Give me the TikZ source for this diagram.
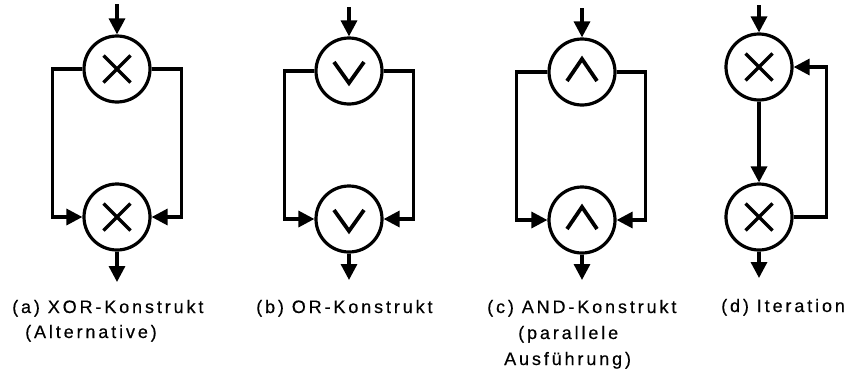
\documentclass[tikz,border=0pt]{standalone}
\usepackage{fontspec}
\setmainfont{Liberation Sans}
\newfontfamily\capfont[LetterSpace=16,FakeBold=0.4]{Liberation Sans}
\usetikzlibrary{arrows.meta}
\begin{document}
\begin{tikzpicture}[x=1pt,y=-1pt,
  gate/.style={circle,draw,line width=3.2pt,minimum size=66pt,inner sep=0pt},
  flow/.style={line width=3.3pt,-{Triangle[length=16pt,width=16pt]}},
  sym/.style={line width=3.4pt},
  wedge/.style={line width=3.8pt},
  capline/.style={anchor=base west,inner sep=0pt,font=\capfont\fontsize{18}{21}\selectfont}]
\useasboundingbox (0,0) rectangle (850,375);

% (a) XOR split and join
\node[gate] (a1) at (117,69) {};
\node[gate] (a2) at (117,217) {};
\coordinate (ain) at (117,4);
\coordinate (aout) at (117,282);
\draw[flow] (ain) -- (a1.north);
\draw[flow] (a1.west) -- ++(-30,0) |- (a2.west);
\draw[flow] (a1.east) -- ++(30,0) |- (a2.east);
\draw[flow] (a2.south) -- (aout);
\foreach \g in {a1,a2}
  \draw[sym] (\g.center) ++(-13.5,-13.5) -- ++(27,27) (\g.center) ++(-13.5,13.5) -- ++(27,-27);

% (b) OR split and join
\node[gate] (b1) at (349,71) {};
\node[gate] (b2) at (349,219) {};
\coordinate (bin) at (349,7);
\coordinate (bout) at (349,280);
\draw[flow] (bin) -- (b1.north);
\draw[flow] (b1.west) -- ++(-30,0) |- (b2.west);
\draw[flow] (b1.east) -- ++(30,0) |- (b2.east);
\draw[flow] (b2.south) -- (bout);
\foreach \g in {b1,b2}
  \draw[wedge] (\g.center) ++(-15,-9) -- ++(15,21) -- ++(15,-21);

% (c) AND split and join
\node[gate] (c1) at (582,72) {};
\node[gate] (c2) at (582,220) {};
\coordinate (cin) at (582,8);
\coordinate (cout) at (582,280);
\draw[flow] (cin) -- (c1.north);
\draw[flow] (c1.west) -- ++(-31,0) |- (c2.west);
\draw[flow] (c1.east) -- ++(29,0) |- (c2.east);
\draw[flow] (c2.south) -- (cout);
\foreach \g in {c1,c2}
  \draw[wedge] (\g.center) ++(-15,9) -- ++(15,-22) -- ++(15,22);

% (d) iteration loop
\node[gate] (d1) at (759,67) {};
\node[gate] (d2) at (759,217) {};
\coordinate (din) at (759,5);
\coordinate (dout) at (759,278);
\draw[flow] (din) -- (d1.north);
\draw[flow] (d1.south) -- (d2.north);
\draw[flow] (d2.east) -- ++(33,0) |- (d1.east);
\draw[flow] (d2.south) -- (dout);
\foreach \g in {d1,d2}
  \draw[sym] (\g.center) ++(-13.5,-13.5) -- ++(27,27) (\g.center) ++(-13.5,13.5) -- ++(27,-27);

% captions
\node[capline] (ta1) at (12,313) {(a) XOR-Konstrukt};
\node[capline] (ta2) at (25,338) {(Alternative)};
\node[capline] (tb1) at (256,313) {(b) OR-Konstrukt};
\node[capline] (tc1) at (487,313) {(c) AND-Konstrukt};
\node[capline] (tc2) at (518,339) {(parallele};
\node[capline] (tc3) at (504,365) {Ausführung)};
\node[capline] (td1) at (721,312) {(d) Iteration};
\end{tikzpicture}
\end{document}
